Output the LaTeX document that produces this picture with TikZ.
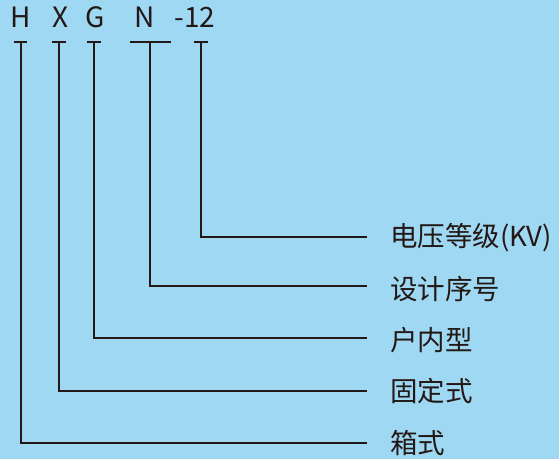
\documentclass[tikz,border=0pt]{standalone}
\usepackage{fontspec}
\setmainfont{Noto Sans CJK SC}
\definecolor{bg}{HTML}{9ED8F2}
\definecolor{ink}{HTML}{231815}
\begin{document}
\begin{tikzpicture}[x=1pt,y=-1pt,
  code/.style={inner sep=0pt,anchor=base,text=ink,font=\fontsize{28}{30}\selectfont},
  lbl/.style={inner sep=0pt,anchor=west,text=ink,font=\fontsize{27.5}{30}\selectfont},
  ln/.style={draw=ink,line width=1.3pt}]
\fill[bg] (0,0) rectangle (559,459);
\useasboundingbox (0,0) rectangle (559,459);
% codes
\node[code] (H) at (20.5,27) {H};
\node[code] (X) at (61,27) {X};
\node[code] (G) at (95,27) {G};
\node[code] (N) at (145,27) {N};
\node[code] (V) at (195,27) {-12};
% tick tops
\coordinate (tH) at (21,42); \coordinate (tX) at (59,42); \coordinate (tG) at (94,42);
\coordinate (tN) at (150,42); \coordinate (tV) at (201,42);
\draw[ln] (14,42) -- (27,42);
\draw[ln] (52,42) -- (66,42);
\draw[ln] (87,42) -- (101,42);
\draw[ln] (130,42) -- (171,42);
\draw[ln] (194,42) -- (208,42);
% labels
\node[lbl] (lV) at (390,238) {电压等级(KV)};
\node[lbl] (lN) at (390,289) {设计序号};
\node[lbl] (lG) at (390,340) {户内型};
\node[lbl] (lX) at (390,391) {固定式};
\node[lbl] (lH) at (390,443) {箱式};
% connector lines
\coordinate (eV) at (367,237); \coordinate (eN) at (367,286);
\coordinate (eG) at (367,338); \coordinate (eX) at (367,391);
\coordinate (eH) at (367,443);
\draw[ln] (tV) |- (eV);
\draw[ln] (tN) |- (eN);
\draw[ln] (tG) |- (eG);
\draw[ln] (tX) |- (eX);
\draw[ln] (tH) |- (eH);
\end{tikzpicture}
\end{document}
